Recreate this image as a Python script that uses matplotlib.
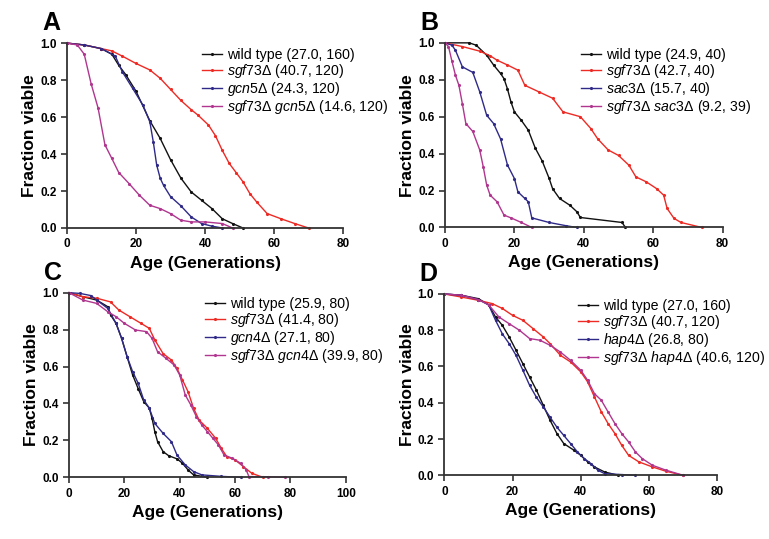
import matplotlib
matplotlib.use("Agg")
import matplotlib.pyplot as plt

plt.rcParams['font.family'] = ['Liberation Sans', 'DejaVu Sans']
plt.rcParams['mathtext.fontset'] = 'custom'
plt.rcParams['mathtext.it'] = 'Liberation Sans:italic'
plt.rcParams['mathtext.rm'] = 'Liberation Sans'

# ---- panel A ----
a_wt_x = [0, 5, 10, 13, 15, 17, 20, 24, 27, 30, 33, 36, 39, 42, 45, 48, 51]
a_wt_y = [1.0, 0.99, 0.97, 0.94, 0.88, 0.83, 0.74, 0.58, 0.485, 0.37, 0.27, 0.195, 0.15, 0.105, 0.05, 0.024, 0.0]
a_sgf_x = [0, 5, 10, 13, 16, 20, 24, 27, 30, 33, 36, 38, 41, 43, 45, 47, 49, 51, 53, 55, 58, 62, 66, 70]
a_sgf_y = [1.0, 0.99, 0.97, 0.958, 0.93, 0.89, 0.855, 0.81, 0.75, 0.69, 0.64, 0.61, 0.557, 0.50, 0.42, 0.35,
           0.30, 0.25, 0.186, 0.14, 0.078, 0.05, 0.024, 0.0]
a_mut_x = [0, 5, 10, 14, 16, 19, 22, 24, 25, 26, 27, 28, 30, 33, 36, 39, 42, 45]
a_mut_y = [1.0, 0.99, 0.97, 0.93, 0.846, 0.756, 0.665, 0.575, 0.467, 0.34, 0.27, 0.23, 0.17, 0.12, 0.06,
           0.024, 0.01, 0.0]
a_dbl_x = [0, 3, 5, 7, 9, 11, 13, 15, 18, 21, 24, 27, 30, 33, 36, 40, 45, 48]
a_dbl_y = [1.0, 0.99, 0.94, 0.78, 0.65, 0.45, 0.376, 0.30, 0.24, 0.177, 0.123, 0.105, 0.078, 0.042, 0.033,
           0.033, 0.024, 0.0]
a_labels = ['wild type (27.0, 160)', r'$\mathit{sgf73Δ}$ (40.7, 120)', r'$\mathit{gcn5Δ}$ (24.3, 120)',
            r'$\mathit{sgf73Δ\ gcn5Δ}$ (14.6, 120)']

# ---- panel B ----
b_wt_x = [0, 7, 9, 12, 14, 16, 17, 18, 19, 20, 22, 24, 26, 28, 30, 31, 33, 36, 38, 39, 51, 52]
b_wt_y = [1.0, 1.0, 0.987, 0.933, 0.88, 0.834, 0.806, 0.75, 0.68, 0.626, 0.58, 0.527, 0.43, 0.36, 0.266,
          0.21, 0.157, 0.12, 0.085, 0.054, 0.027, 0.0]
b_sgf_x = [0, 5, 10, 13, 15, 18, 21, 23, 27, 31, 34, 39, 42, 44, 47, 50, 53, 55, 58, 61, 63, 64, 66, 68, 74]
b_sgf_y = [1.0, 0.98, 0.955, 0.93, 0.906, 0.88, 0.852, 0.77, 0.735, 0.70, 0.626, 0.60, 0.536, 0.48, 0.42,
           0.39, 0.337, 0.274, 0.247, 0.21, 0.175, 0.103, 0.049, 0.027, 0.0]
b_mut_x = [0, 2, 3, 5, 8, 10, 12, 14, 16, 18, 20, 21, 23, 24, 25, 30, 35, 38]
b_mut_y = [1.0, 0.987, 0.96, 0.87, 0.84, 0.735, 0.608, 0.563, 0.48, 0.338, 0.265, 0.193, 0.157, 0.139,
           0.052, 0.027, 0.009, 0.0]
b_dbl_x = [0, 1, 2, 3, 4, 5, 6, 8, 10, 11, 12, 13, 15, 17, 19, 22, 25]
b_dbl_y = [1.0, 0.98, 0.90, 0.825, 0.77, 0.67, 0.563, 0.52, 0.42, 0.33, 0.23, 0.175, 0.139, 0.067, 0.052,
           0.027, 0.0]
b_labels = ['wild type (24.9, 40)', r'$\mathit{sgf73Δ}$ (42.7, 40)', r'$\mathit{sac3Δ}$ (15.7, 40)',
            r'$\mathit{sgf73Δ\ sac3Δ}$ (9.2, 39)']

# ---- panel C ----
c_wt_x = [0, 5, 10, 14, 15, 17, 19, 21, 23, 25, 27, 29, 30, 31, 32, 34, 36, 39, 41, 43, 45, 50]
c_wt_y = [1.0, 0.978, 0.96, 0.924, 0.88, 0.834, 0.753, 0.653, 0.554, 0.48, 0.41, 0.375, 0.32, 0.247,
          0.193, 0.139, 0.117, 0.10, 0.076, 0.04, 0.013, 0.0]
c_sgf_x = [0, 5, 10, 15, 18, 22, 26, 29, 31, 34, 37, 39, 41, 43, 45, 47, 50, 53, 55, 57, 60, 63, 66, 70]
c_sgf_y = [1.0, 0.978, 0.97, 0.95, 0.906, 0.87, 0.834, 0.807, 0.744, 0.67, 0.635, 0.59, 0.527, 0.464,
           0.374, 0.31, 0.265, 0.211, 0.157, 0.112, 0.094, 0.058, 0.022, 0.0]
c_mut_x = [0, 4, 8, 10, 14, 17, 19, 21, 23, 25, 27, 29, 31, 34, 37, 39, 42, 45, 48, 55, 62]
c_mut_y = [1.0, 0.996, 0.984, 0.96, 0.915, 0.834, 0.753, 0.653, 0.572, 0.509, 0.419, 0.375, 0.292, 0.238,
           0.193, 0.121, 0.067, 0.031, 0.013, 0.005, 0.0]
c_dbl_x = [0, 5, 10, 14, 17, 20, 24, 28, 30, 32, 35, 38, 40, 42, 44, 46, 48, 50, 52, 54, 56, 59, 62, 64,
           65, 72, 78]
c_dbl_y = [1.0, 0.96, 0.942, 0.897, 0.87, 0.834, 0.798, 0.789, 0.753, 0.68, 0.645, 0.608, 0.554, 0.446,
           0.392, 0.329, 0.283, 0.247, 0.211, 0.175, 0.121, 0.103, 0.076, 0.04, 0.004, 0.003, 0.0]
c_labels = ['wild type (25.9, 80)', r'$\mathit{sgf73Δ}$ (41.4, 80)', r'$\mathit{gcn4Δ}$ (27.1, 80)',
            r'$\mathit{sgf73Δ\ gcn4Δ}$ (39.9, 80)']

# ---- panel D ----
d_wt_x = [0, 5, 10, 13, 15, 17, 19, 21, 23, 25, 27, 29, 31, 33, 35, 38, 40, 42, 44, 47, 51]
d_wt_y = [1.0, 0.993, 0.974, 0.94, 0.873, 0.827, 0.763, 0.69, 0.616, 0.542, 0.469, 0.386, 0.303, 0.23,
          0.175, 0.138, 0.11, 0.074, 0.046, 0.018, 0.0]
d_sgf_x = [0, 5, 10, 14, 17, 20, 23, 26, 29, 31, 34, 37, 40, 42, 44, 46, 48, 50, 52, 54, 57, 61, 65, 70]
d_sgf_y = [1.0, 0.983, 0.965, 0.947, 0.92, 0.882, 0.855, 0.809, 0.763, 0.726, 0.662, 0.625, 0.57, 0.515,
           0.432, 0.35, 0.285, 0.23, 0.165, 0.11, 0.074, 0.046, 0.022, 0.0]
d_mut_x = [0, 5, 10, 13, 15, 17, 19, 21, 23, 25, 27, 29, 31, 33, 35, 37, 39, 41, 43, 45, 47, 52, 56]
d_mut_y = [1.0, 0.993, 0.969, 0.94, 0.855, 0.78, 0.726, 0.662, 0.58, 0.496, 0.43, 0.377, 0.32, 0.265,
           0.22, 0.175, 0.129, 0.092, 0.064, 0.028, 0.009, 0.004, 0.0]
d_dbl_x = [0, 5, 10, 13, 16, 19, 22, 25, 28, 31, 34, 37, 40, 42, 44, 46, 48, 50, 52, 54, 56, 58, 61, 65, 70]
d_dbl_y = [1.0, 0.993, 0.969, 0.94, 0.873, 0.836, 0.80, 0.754, 0.745, 0.717, 0.68, 0.634, 0.579, 0.524,
           0.45, 0.414, 0.349, 0.285, 0.23, 0.184, 0.129, 0.092, 0.055, 0.028, 0.0]
d_labels = ['wild type (27.0, 160)', r'$\mathit{sgf73Δ}$ (40.7, 120)', r'$\mathit{hap4Δ}$ (26.8, 80)',
            r'$\mathit{sgf73Δ\ hap4Δ}$ (40.6, 120)']

colors = ['#111111', '#ee2a24', '#2f2a88', '#b0368f']

panels = [
    ('A', [0.0871, 0.577, 0.359, 0.343], 80, [(a_wt_x, a_wt_y), (a_sgf_x, a_sgf_y), (a_mut_x, a_mut_y), (a_dbl_x, a_dbl_y)], a_labels),
    ('B', [0.5787, 0.578, 0.361, 0.3425], 80, [(b_wt_x, b_wt_y), (b_sgf_x, b_sgf_y), (b_mut_x, b_mut_y), (b_dbl_x, b_dbl_y)], b_labels),
    ('C', [0.0897, 0.1145, 0.360, 0.3425], 100, [(c_wt_x, c_wt_y), (c_sgf_x, c_sgf_y), (c_mut_x, c_mut_y), (c_dbl_x, c_dbl_y)], c_labels),
    ('D', [0.5778, 0.1182, 0.355, 0.3364], 80, [(d_wt_x, d_wt_y), (d_sgf_x, d_sgf_y), (d_mut_x, d_mut_y), (d_dbl_x, d_dbl_y)], d_labels),
]

fig = plt.figure(figsize=(7.69, 5.39), dpi=100)

for letter, rect, xmax, series, labels in panels:
    ax = fig.add_axes(rect)
    handles = []
    for (xs, ys), col, lab in zip(series, colors, labels):
        h, = ax.plot(xs, ys, color=col, lw=1.0, marker='.', ms=2.5, label=lab, clip_on=False)
        handles.append(h)
    ax.set_xlim(0, xmax)
    ax.set_ylim(0, 1.0)
    ax.set_xticks(range(0, xmax + 1, 20))
    ax.set_yticks([0, 0.2, 0.4, 0.6, 0.8, 1.0])
    ax.set_yticklabels(['0.0', '0.2', '0.4', '0.6', '0.8', '1.0'])
    for s in ['top', 'right']:
        ax.spines[s].set_visible(False)
    for s in ['left', 'bottom']:
        ax.spines[s].set_linewidth(1.3)
        ax.spines[s].set_color('#333333')
    ax.tick_params(width=1.2, length=4, labelsize=8.5, color='#333333')
    for t in ax.get_xticklabels() + ax.get_yticklabels():
        t.set_fontweight('bold')
    ax.set_xlabel('Age (Generations)', fontsize=12.5, fontweight='bold', labelpad=4)
    ax.set_ylabel('Fraction viable', fontsize=12.5, fontweight='bold', labelpad=2)
    ax.legend(handles=handles, loc='upper left', bbox_to_anchor=(0.47, 1.005), frameon=False,
              fontsize=10.2, handlelength=1.4, handletextpad=0.35, labelspacing=0.0, borderaxespad=0)
    fig.text(rect[0] - 0.032, rect[1] + rect[3] + 0.015, letter, fontsize=18, fontweight='bold',
             ha='left', va='bottom')

fig.savefig('out.png', dpi=100)
